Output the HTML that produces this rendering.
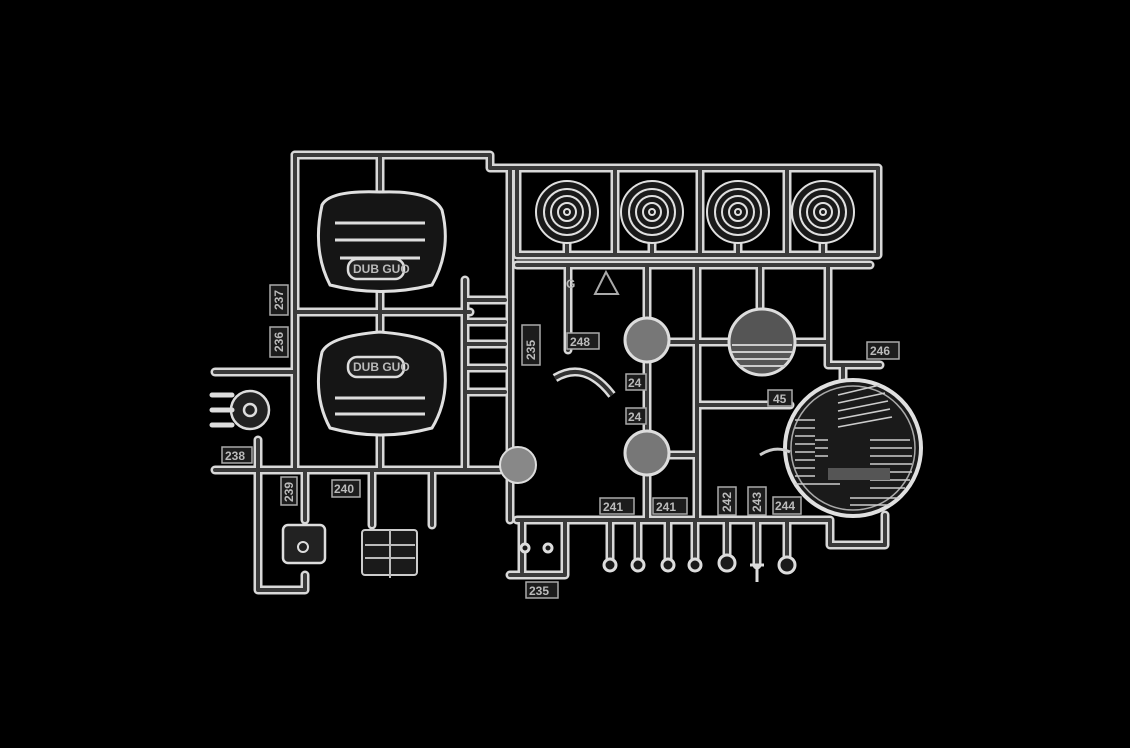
<!DOCTYPE html>
<html><head><meta charset="utf-8"><style>
html,body{margin:0;padding:0;background:#000;width:1130px;height:748px;overflow:hidden}
svg{display:block}
.o{fill:none;stroke:#d8d8d8;stroke-width:9;stroke-linecap:round;stroke-linejoin:round}
.i{fill:none;stroke:#3a3a3a;stroke-width:4;stroke-linecap:round;stroke-linejoin:round}
.t{font-family:"Liberation Sans",sans-serif;font-size:12px;fill:#bbb;font-weight:bold}
.lb{fill:#1c1c1c;stroke:#aaa;stroke-width:1.5}
.p{fill:#222;stroke:#ddd;stroke-width:2.5}
.h{stroke:#ccc;stroke-width:1.6}
</style></head><body>
<svg width="1130" height="748" viewBox="0 0 1130 748">
<defs>
<g id="spr">
<!-- left block -->
<path d="M295 155 H490 V168 H878 V190"/>
<path d="M295 155 V470"/>
<path d="M295 312 H470"/>
<path d="M465 280 V470"/>
<path d="M510 168 V520"/>
<path d="M215 470 H500"/>
<path d="M215 372 H295"/>
<path d="M258 440 V590 H305 V575"/>
<path d="M305 470 V520"/>
<path d="M372 470 V525"/>
<path d="M432 470 V525"/>
<path d="M380 155 V192"/>
<path d="M380 290 V332"/>
<path d="M380 436 V470"/>
<path d="M350 312 H300"/>
<path d="M465 300 H505 M465 322 H505 M465 344 H505 M465 368 H505 M465 392 H505"/>
<!-- right block -->
<path d="M517 168 V255 H878 V168"/>
<path d="M615 168 V255 M700 168 V255 M787 168 V255"/>
<path d="M517 265 H870"/>
<path d="M567 242 V255 M652 242 V255 M738 242 V255 M823 242 V255"/>
<path d="M568 265 V350"/>
<path d="M647 265 V318"/>
<path d="M697 265 V520"/>
<path d="M760 265 V310"/>
<path d="M828 265 V365 H880"/>
<path d="M670 342 H728 M792 342 H828"/>
<path d="M697 405 H790"/>
<path d="M647 362 V430"/>
<path d="M670 455 H697"/>
<path d="M647 475 V520"/>
<path d="M517 520 H830 V545 H885 V515"/>
<path d="M522 520 V572 M510 575 H565 V520"/>
<path d="M610 520 V560 M638 520 V560 M668 520 V560 M695 520 V560 M727 520 V555 M757 520 V565 M787 520 V560"/>
<path d="M843 365 V380"/>
</g>
</defs>
<use href="#spr" class="o"/>
<use href="#spr" class="i"/>

<!-- engine covers -->
<g fill="#151515" stroke="#e0e0e0" stroke-width="3">
<path d="M322 205 Q330 190 380 192 Q432 190 442 210 Q452 250 432 285 Q380 298 330 285 Q312 250 322 205 Z"/>
<path d="M322 352 Q330 336 380 332 Q432 336 442 352 Q452 395 432 428 Q380 442 330 428 Q312 395 322 352 Z"/>
</g>
<g stroke="#ddd" stroke-width="3" fill="none">
<path d="M335 223 H425 M335 240 H425 M340 258 H420"/>
<path d="M335 398 H425 M335 414 H425"/>
</g>
<rect x="348" y="259" width="56" height="20" rx="9" class="p"/>
<rect x="348" y="357" width="56" height="20" rx="9" class="p"/>
<text x="353" y="273" class="t" font-size="10">DUB GUO</text>
<text x="353" y="371" class="t" font-size="10">DUB GUO</text>

<!-- small parts left -->
<circle cx="250" cy="410" r="19" class="p"/><circle cx="250" cy="410" r="6" class="p"/>
<path d="M212 395 H232 M212 410 H232 M212 425 H232" stroke="#ddd" stroke-width="5" stroke-linecap="round"/>
<rect x="283" y="525" width="42" height="38" rx="5" class="p"/>
<circle cx="303" cy="547" r="5" fill="none" stroke="#ddd" stroke-width="2"/>
<rect x="362" y="530" width="55" height="45" rx="3" fill="#1a1a1a" stroke="#ccc" stroke-width="2"/>
<path d="M365 545 H415 M365 558 H415 M390 530 V578" stroke="#bbb" stroke-width="2"/>
<circle cx="518" cy="465" r="18" fill="#888" stroke="#ddd" stroke-width="2"/>

<!-- lenses -->
<g fill="#1a1a1a" stroke="#e0e0e0" stroke-width="2">
<g transform="translate(567,212)"><circle r="31"/><circle r="23"/><circle r="16"/><circle r="9"/><circle r="3"/></g>
<g transform="translate(652,212)"><circle r="31"/><circle r="23"/><circle r="16"/><circle r="9"/><circle r="3"/></g>
<g transform="translate(738,212)"><circle r="31"/><circle r="23"/><circle r="16"/><circle r="9"/><circle r="3"/></g>
<g transform="translate(823,212)"><circle r="31"/><circle r="23"/><circle r="16"/><circle r="9"/><circle r="3"/></g>
</g>
<!-- mesh circles -->
<circle cx="647" cy="340" r="22" fill="#777" stroke="#ddd" stroke-width="3"/>
<circle cx="647" cy="453" r="22" fill="#777" stroke="#ddd" stroke-width="3"/>
<circle cx="762" cy="342" r="33" fill="#555" stroke="#ddd" stroke-width="3"/>
<path d="M732 345 H792 M732 352 H792 M734 359 H790 M738 366 H786" stroke="#ccc" stroke-width="2"/>
<!-- arc part -->
<path d="M555 378 Q585 360 612 395" fill="none" stroke="#ddd" stroke-width="9"/>
<path d="M555 378 Q585 360 612 395" fill="none" stroke="#333" stroke-width="4"/>
<!-- headlight -->
<circle cx="853" cy="448" r="68" fill="#1a1a1a" stroke="#e0e0e0" stroke-width="4"/>
<circle cx="853" cy="448" r="62" fill="none" stroke="#aaa" stroke-width="1.5"/>
<g class="h">
<path d="M795 420 H815 M795 428 H815 M795 436 H815 M795 444 H815 M795 452 H815 M795 460 H815 M795 468 H815 M795 476 H815 M795 484 H840"/>
<path d="M815 440 H828 M815 448 H828 M815 456 H828"/>
<path d="M870 440 H910 M870 448 H912 M870 456 H912 M870 464 H912 M870 472 H912 M870 480 H910 M870 488 H905 M850 498 H900 M850 505 H890"/>
<path d="M838 395 L880 385 M838 403 L885 393 M838 411 L888 401 M838 419 L890 409 M838 427 L892 417"/>
</g>
<rect x="828" y="468" width="62" height="12" fill="#555"/>
<path d="M760 455 Q775 445 790 452" fill="none" stroke="#ccc" stroke-width="3"/>
<!-- hanging parts -->
<g fill="#1a1a1a" stroke="#ddd" stroke-width="3">
<circle cx="610" cy="565" r="6"/><circle cx="638" cy="565" r="6"/><circle cx="668" cy="565" r="6"/><circle cx="695" cy="565" r="6"/><circle cx="727" cy="563" r="8"/><circle cx="787" cy="565" r="8"/>
<circle cx="525" cy="548" r="4"/><circle cx="548" cy="548" r="4"/>
</g>
<path d="M750 565 H764 M757 565 V582" stroke="#ddd" stroke-width="3"/>
<!-- recycle + G -->
<path d="M606 272 L595 294 H618 Z" fill="none" stroke="#aaa" stroke-width="2"/>
<text x="566" y="288" class="t" font-size="14">G</text>

<!-- labels -->
<g>
<rect x="270" y="285" width="18" height="30" class="lb"/><text class="t" transform="translate(283,310) rotate(-90)">237</text>
<rect x="270" y="327" width="18" height="30" class="lb"/><text class="t" transform="translate(283,352) rotate(-90)">236</text>
<rect x="222" y="447" width="30" height="16" class="lb"/><text class="t" x="225" y="460">238</text>
<rect x="281" y="477" width="16" height="28" class="lb"/><text class="t" transform="translate(293,502) rotate(-90)">239</text>
<rect x="332" y="480" width="28" height="17" class="lb"/><text class="t" x="334" y="493">240</text>
<rect x="522" y="325" width="18" height="40" class="lb"/><text class="t" transform="translate(535,360) rotate(-90)">235</text>
<rect x="526" y="582" width="32" height="16" class="lb"/><text class="t" x="529" y="595">235</text>
<rect x="567" y="333" width="32" height="16" class="lb"/><text class="t" x="570" y="346">248</text>
<rect x="626" y="374" width="20" height="16" class="lb"/><text class="t" x="628" y="387">24</text>
<rect x="626" y="408" width="20" height="16" class="lb"/><text class="t" x="628" y="421">24</text>
<rect x="600" y="498" width="34" height="16" class="lb"/><text class="t" x="603" y="511">241</text>
<rect x="653" y="498" width="34" height="16" class="lb"/><text class="t" x="656" y="511">241</text>
<rect x="718" y="487" width="18" height="28" class="lb"/><text class="t" transform="translate(731,512) rotate(-90)">242</text>
<rect x="748" y="487" width="18" height="28" class="lb"/><text class="t" transform="translate(761,512) rotate(-90)">243</text>
<rect x="773" y="497" width="28" height="17" class="lb"/><text class="t" x="775" y="510">244</text>
<rect x="768" y="390" width="24" height="16" class="lb"/><text class="t" x="773" y="403">45</text>
<rect x="867" y="342" width="32" height="17" class="lb"/><text class="t" x="870" y="355">246</text>
</g>
</svg>
</body></html>
